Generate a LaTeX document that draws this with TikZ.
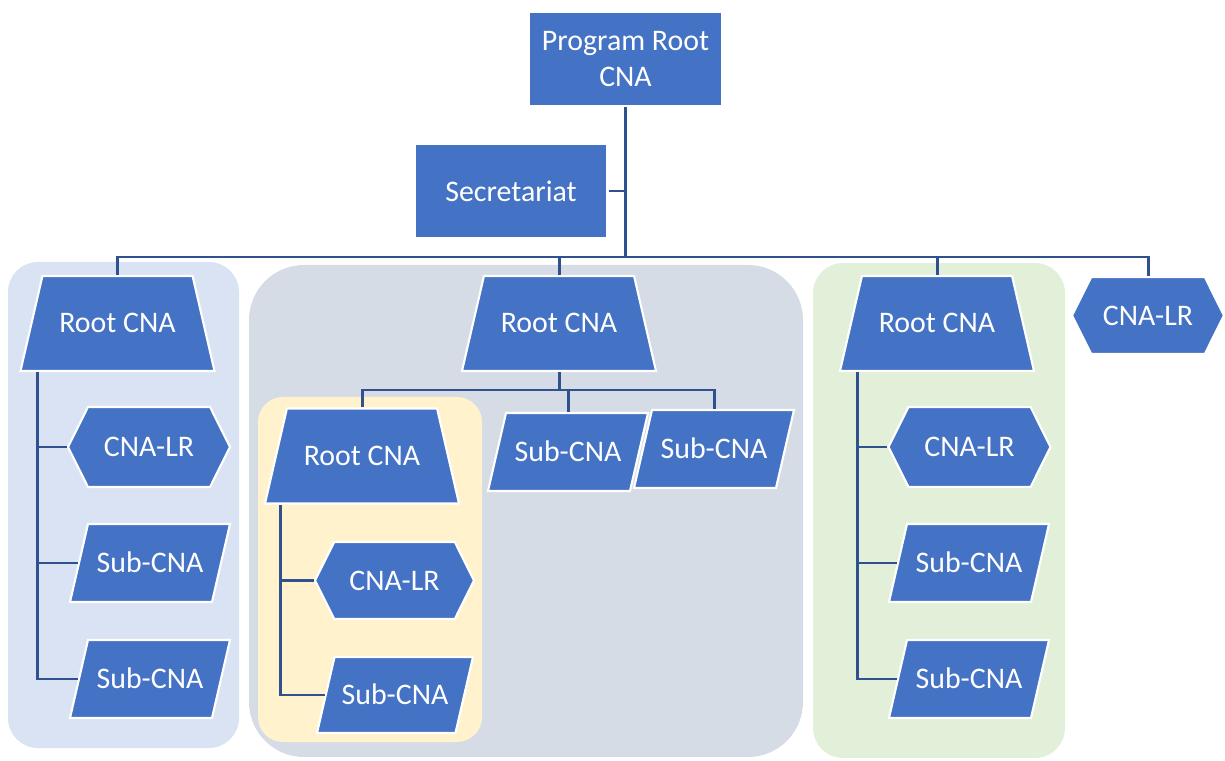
\documentclass[tikz,border=0pt]{standalone}
\usepackage{fontspec}
\setmainfont{Carlito}
\usepackage{xcolor}
\definecolor{Office-blue}{RGB}{68,114,196}
\definecolor{Office-navy}{RGB}{47,82,143}
\definecolor{Panel-blue}{RGB}{218,227,243}
\definecolor{Panel-gray}{RGB}{214,220,229}
\definecolor{Panel-yellow}{RGB}{255,242,204}
\definecolor{Panel-green}{RGB}{226,240,217}
\usetikzlibrary{shapes.geometric,shapes.symbols,positioning,calc}

\begin{document}
\begin{tikzpicture} [ % 先定义每类框的样式
            font=\fontsize{17}{20}\selectfont,
            cna/.style = {fill=Office-blue, draw=white, line width=1.2pt, text=white, align=center, inner sep=2pt},
            box-rect/.style = {cna, rectangle, minimum width=3.86cm, minimum height=1.88cm},
            box-root/.style = {cna, trapezium, trapezium left angle=77, trapezium right angle=77, trapezium stretches body=true, text height=0.5cm, text depth=0.12cm, inner ysep=0.64cm, minimum width=3.88cm},
            box-lr/.style = {cna, signal, signal to=west and east, signal pointer angle=127, minimum width=3.24cm, minimum height=1.6cm},
            box-sub/.style = {cna, trapezium, trapezium left angle=77, trapezium right angle=103, trapezium stretches body=true, text height=0.5cm, text depth=0.12cm, inner ysep=0.47cm, minimum width=3.2cm},
            link/.style = {draw=Office-navy, line width=1.7pt}
        ]

        \useasboundingbox (0,0) rectangle (24.5,-15.22);

        % 背景
        \fill [Panel-blue, rounded corners=0.6cm] (0.16,-5.24) rectangle (4.78,-14.96);
        \fill [Panel-gray, rounded corners=1.1cm] (4.98,-5.3) rectangle (16.06,-15.14);
        \fill [Panel-yellow, rounded corners=0.5cm] (5.16,-7.94) rectangle (9.64,-14.84);
        \fill [Panel-green, rounded corners=0.6cm] (16.26,-5.26) rectangle (21.3,-15.16);

        % 顶层
        \node [box-rect] (prog) at (12.51,-1.18) {Program Root\\CNA};
        \node [box-rect] (sec) at (10.22,-3.82) {Secretariat};
        \node [box-root] (lroot) at (2.35,-6.47) {Root CNA};
        \node [box-root] (mroot) at (11.18,-6.47) {Root CNA};
        \node [box-root] (rroot) at (18.74,-6.47) {Root CNA};
        \node [box-lr, minimum width=3.04cm, minimum height=1.54cm] (toplr) at (22.96,-6.31) {CNA-LR};

        % 左
        \node [box-lr] (llr) at (2.98,-8.94) {CNA-LR};
        \node [box-sub] (lsub1) at (3.0,-11.26) {Sub-CNA};
        \node [box-sub] (lsub2) at (3.0,-13.58) {Sub-CNA};

        % 中
        \node [box-root] (yroot) at (7.24,-9.12) {Root CNA};
        \node [box-sub] (msub1) at (11.36,-9.04) {Sub-CNA};
        \node [box-sub] (msub2) at (14.28,-8.98) {Sub-CNA};
        \node [box-lr, minimum width=3.18cm, minimum height=1.54cm] (ylr) at (7.89,-11.61) {CNA-LR};
        \node [box-sub, minimum width=3.12cm, inner ysep=0.45cm] (ysub) at (7.9,-13.9) {Sub-CNA};

        % 右
        \node [box-lr] (rlr) at (19.39,-8.94) {CNA-LR};
        \node [box-sub] (rsub1) at (19.38,-11.26) {Sub-CNA};
        \node [box-sub] (rsub2) at (19.38,-13.58) {Sub-CNA};

        % 连线
        \coordinate (bus) at (12.52,-5.14);
        \draw [link] (prog.south) -- (prog.south |- bus);
        \draw [link] (sec.east) -- (sec.east -| prog.south);
        \draw [link] (lroot.north) |- (bus) -| (toplr.north);
        \draw [link] (mroot.north) -- (mroot.north |- bus);
        \draw [link] (rroot.north) -- (rroot.north |- bus);

        \draw [link] ($(lroot.bottom left corner)+(0.36,0)$) coordinate (lt) |- (lsub2.west);
        \draw [link] (lt |- llr.west) -- (llr.west);
        \draw [link] (lt |- lsub1.west) -- (lsub1.west);

        \coordinate (mbus) at (11.2,-7.8);
        \draw [link] (mroot.south) -- (mroot.south |- mbus);
        \draw [link] (yroot.north) |- (mbus) -| (msub2.north);
        \draw [link] (msub1.north) -- (msub1.north |- mbus);

        \draw [link] ($(yroot.bottom left corner)+(0.34,0)$) coordinate (yt) |- (ysub.west);
        \draw [link] (yt |- ylr.west) -- (ylr.west);

        \draw [link] ($(rroot.bottom left corner)+(0.38,0)$) coordinate (rt) |- (rsub2.west);
        \draw [link] (rt |- rlr.west) -- (rlr.west);
        \draw [link] (rt |- rsub1.west) -- (rsub1.west);

    \end{tikzpicture}
\end{document}
